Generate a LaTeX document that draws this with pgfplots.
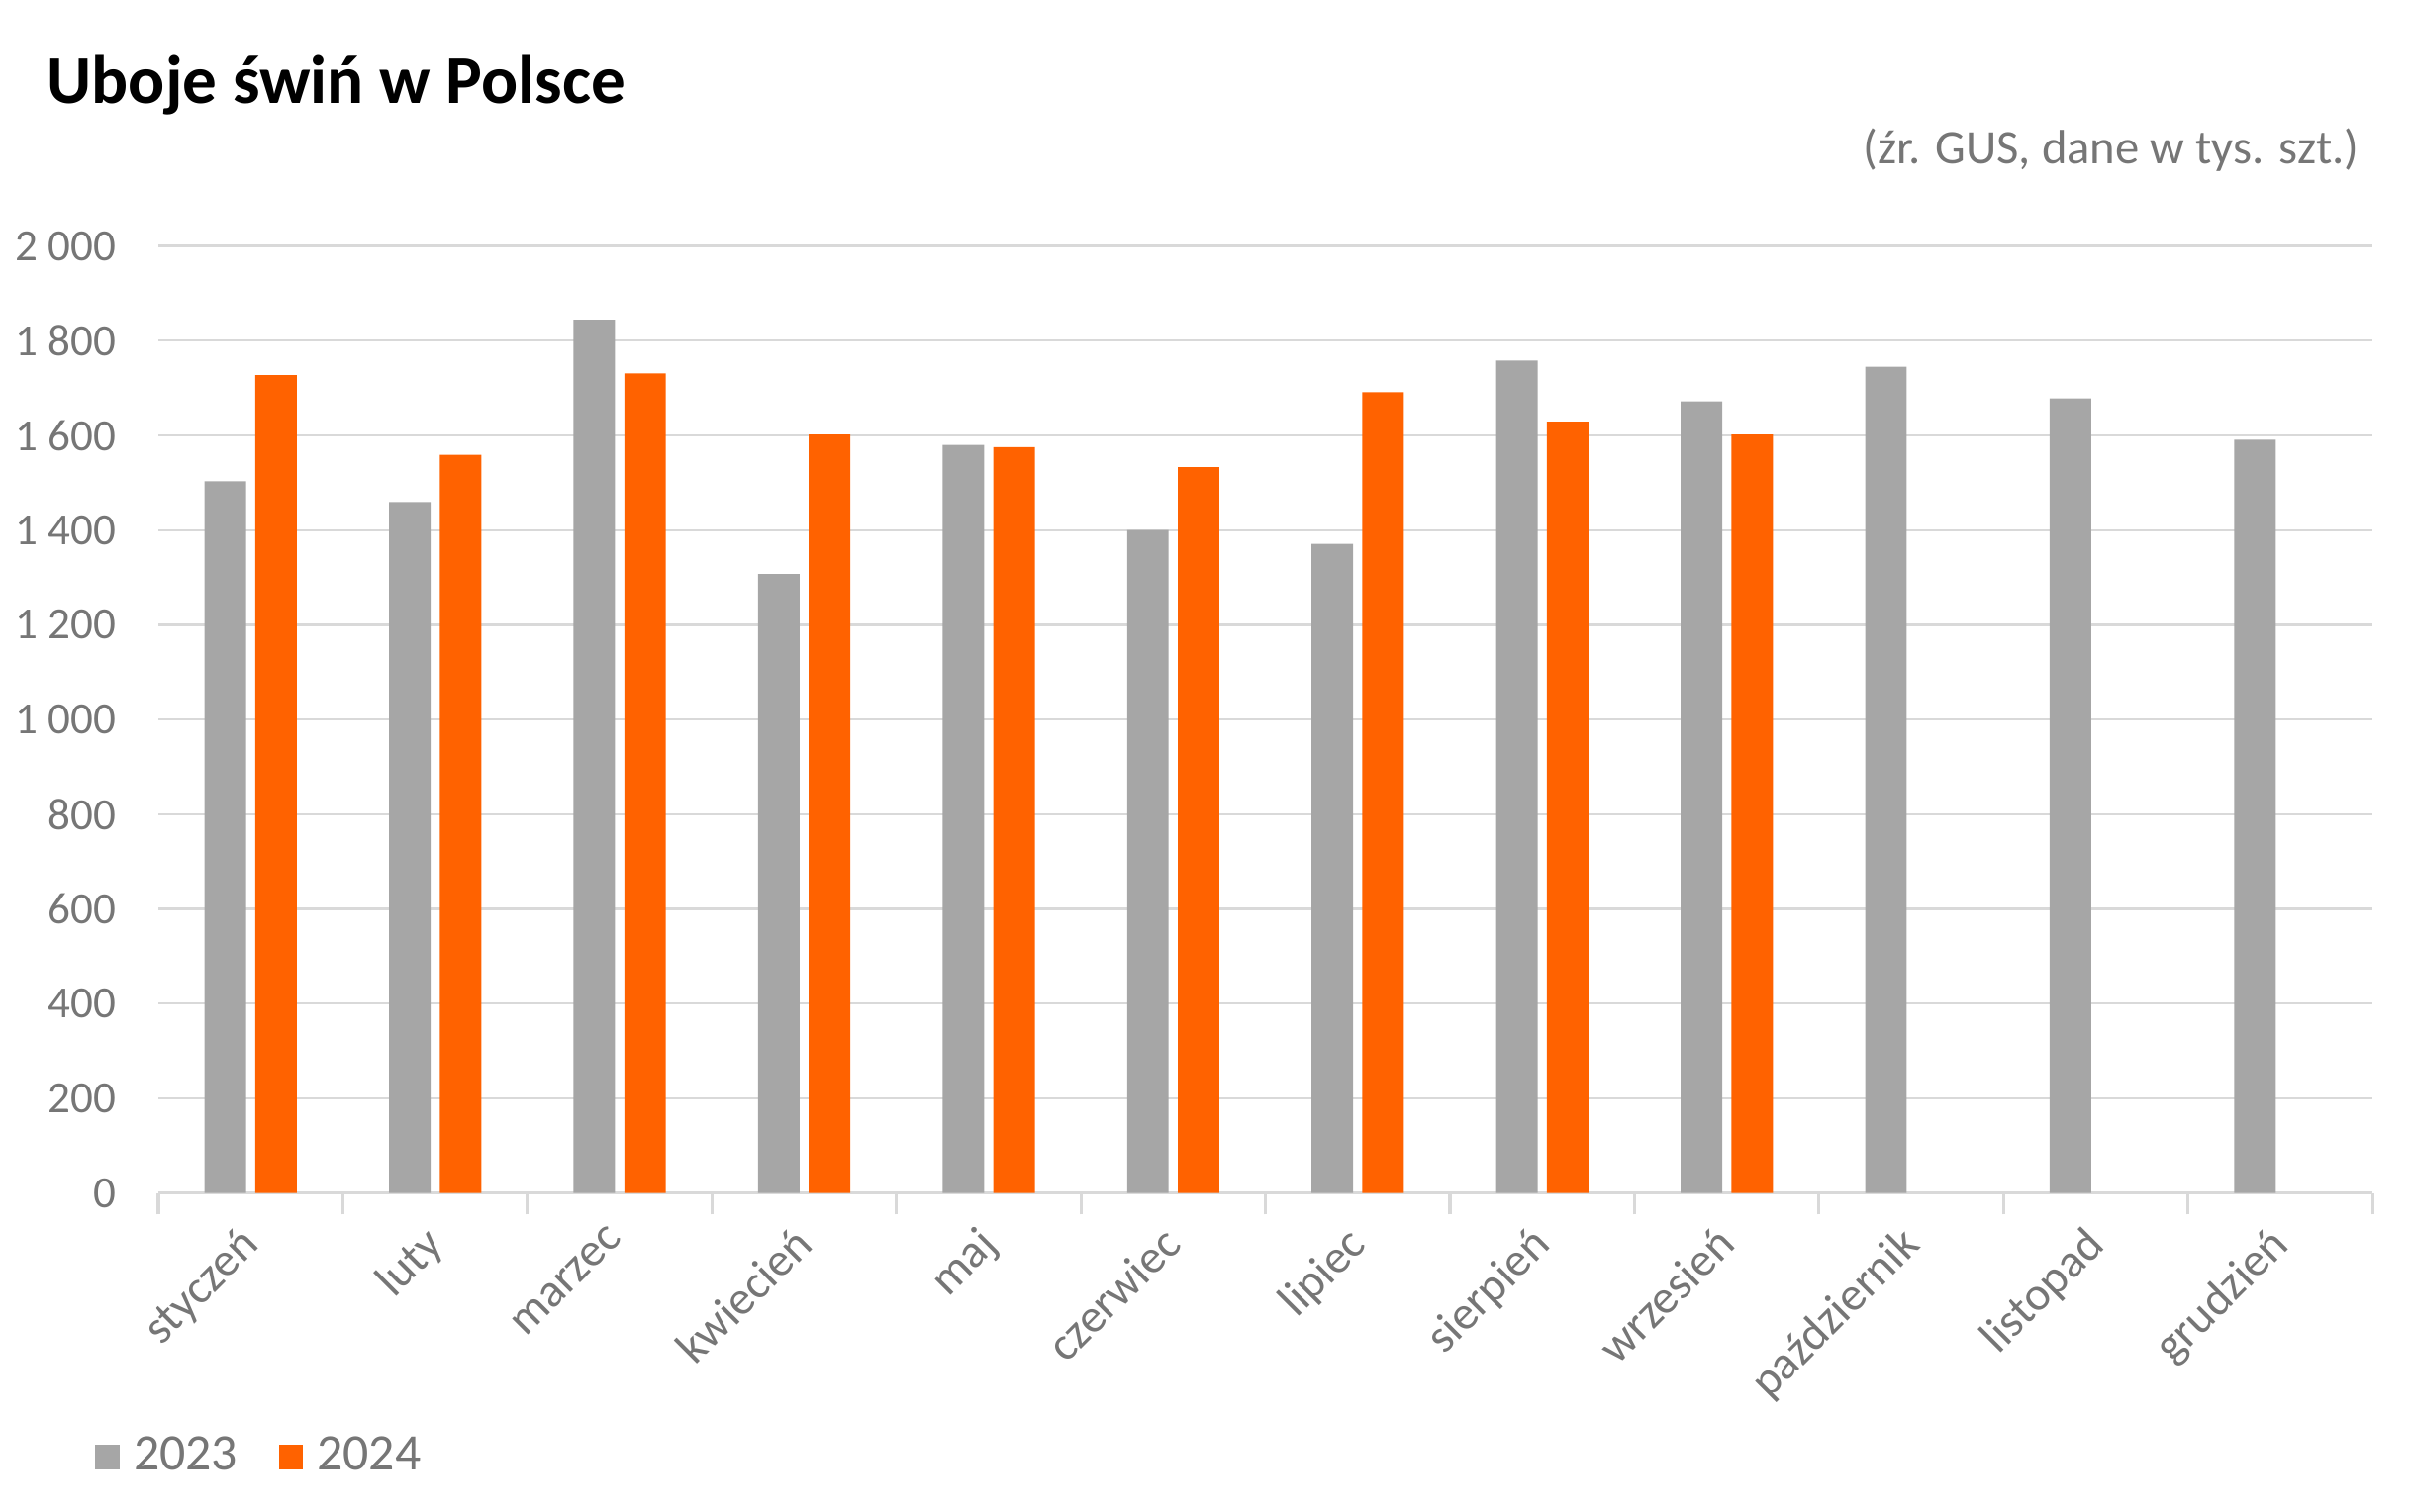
\documentclass[border=0pt]{standalone}
\usepackage{pgfplots}
\pgfplotsset{compat=1.18}
\usepackage{fontspec}
\setmainfont{Carlito}
\definecolor{bargray}{HTML}{A6A6A6}
\definecolor{ingorange}{HTML}{FF6200}
\definecolor{txtgray}{HTML}{767676}
\definecolor{gridgray}{HTML}{D9D9D9}
\begin{document}
\begin{tikzpicture}
\useasboundingbox (0,0) rectangle (470.4pt,295.05pt);
\node[anchor=base west, inner sep=0pt, font=\bfseries\fontsize{13.35}{16}\selectfont] at (9pt,274.95pt) {Uboje świń w Polsce};
\node[anchor=base east, inner sep=0pt, text=txtgray, font=\fontsize{9.4}{11}\selectfont] at (460.5pt,263.07pt) {(źr. GUS, dane w tys. szt.)};
\begin{axis}[
  at={(30.9pt,62.25pt)}, anchor=south west,
  scale only axis, width=432pt, height=184.8pt,
  xmin=-0.5, xmax=11.5, ymin=0, ymax=2000,
  ybar, bar width=8.1pt,
  axis line style={draw=none},
  axis x line*=bottom,
  x axis line style={draw=gridgray, line width=0.6pt},
  xtick={0,...,11},
  xticklabels={styczeń,luty,marzec,kwiecień,maj,czerwiec,lipiec,sierpień,wrzesień,październik,listopad,grudzień},
  minor xtick={-0.5,0.5,...,11.5},
  tick align=outside,
  major tick length=0pt,
  minor tick length=4.2pt,
  minor tick style={draw=gridgray, line width=0.6pt},
  x tick label style={xshift=-2.5pt, yshift=-5.8pt, rotate=45, anchor=north east, inner sep=0pt, text=txtgray, font=\fontsize{9.2}{11}\selectfont},
  ytick={0,200,...,2000},
  scaled y ticks=false,
  ymajorgrids, grid style={draw=gridgray, line width=0.45pt},
  ytick style={draw=none},
  y tick label style={anchor=east, inner sep=0pt, xshift=-8.1pt, text=txtgray, font=\fontsize{8.7}{10}\selectfont},
  /pgf/number format/assume math mode=true,
  /pgf/number format/1000 sep={\ },
  clip=false,
  legend columns=2,
  legend style={draw=none, at={(-0.0285,-0.279)}, anchor=west, inner sep=0pt, outer sep=0pt,
    font=\fontsize{10}{12}\selectfont, text=txtgray,
    /tikz/every even column/.append style={column sep=8pt},
    nodes={inner sep=0pt}},
  legend cell align=left,
  legend image code/.code={\fill[#1] (0pt,-2.4pt) rectangle (4.8pt,2.4pt);},
]
\addplot[fill=bargray, draw=none, bar shift=-4.95pt] coordinates {
(0,1503) (1,1459) (2,1844) (3,1307) (4,1580) (5,1400) (6,1371) (7,1758) (8,1672) (9,1745) (10,1678) (11,1591)};
\addplot[fill=ingorange, draw=none, bar shift=4.95pt] coordinates {
(0,1727) (1,1559) (2,1731) (3,1602) (4,1575) (5,1533) (6,1691) (7,1629) (8,1602)};
\addlegendentry{\hspace{2.7pt}2023}
\addlegendentry{\hspace{2.7pt}2024}
\end{axis}
\end{tikzpicture}
\end{document}
